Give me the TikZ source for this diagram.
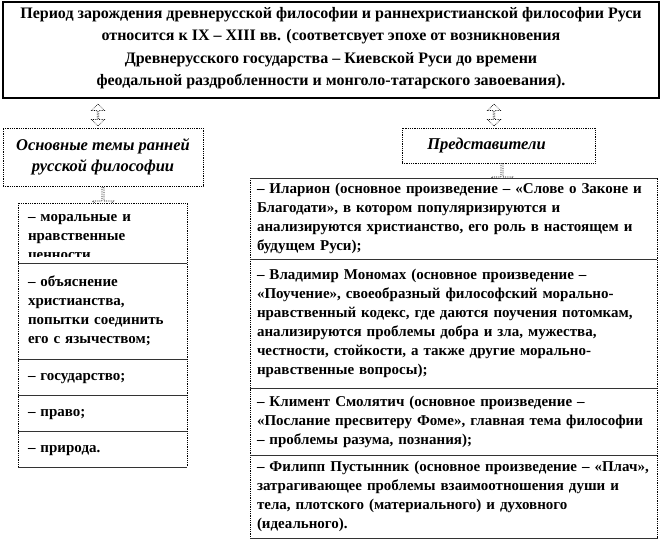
\documentclass[tikz,border=0pt]{standalone}
\usepackage{fontspec}
\setmainfont{Liberation Serif}
\usetikzlibrary{shapes.arrows,positioning}

\begin{document}
\begin{tikzpicture}[x=1pt, y=-1pt]
  \tikzset{
    period box/.style={rectangle, draw, line width=1.4pt, fill=white,
      minimum width=656, minimum height=96, inner sep=0pt,
      align=center, font=\fontsize{16}{22.5}\selectfont\bfseries,
      execute at begin node=\rule{0pt}{20pt}, execute at end node=\strut},
    head box/.style={rectangle, draw, densely dotted, line width=0.8pt,
      inner sep=0pt, align=center,
      font=\fontsize{16.5}{21}\selectfont\bfseries\itshape},
    item/.style={rectangle, fill=white, outer sep=0pt, inner ysep=0pt,
      align=left, font=\fontsize{15}{19}\selectfont\bfseries,
      execute at begin node=\strut, execute at end node=\strut},
    left item/.style={item, inner xsep=10pt, text width=149},
    right item/.style={item, inner xsep=7pt, text width=393},
    updown/.style={double arrow, draw, densely dotted, line width=0.7pt,
      fill=white, rotate=90, minimum height=22, minimum width=13,
      double arrow head extend=2.5pt, inner sep=0pt},
    down/.style={single arrow, draw, densely dotted, line width=0.8pt,
      fill=white, rotate=-90, minimum height=24, minimum width=21,
      single arrow head extend=3.5pt, inner sep=0pt},
    divider/.style={line width=0.8pt, draw=black!80},
    outline/.style={densely dotted, line width=0.8pt}
  }
  \useasboundingbox (0,0) rectangle (662,541);

  % top box
  \node[period box] (period) at (331,50) {Период зарождения древнерусской философии и раннехристианской философии Руси\\
    относится к IX – XIII вв. (соответсвует эпохе от возникновения\\
    Древнерусского государства – Киевской Руси до времени\\
    феодальной раздробленности и монголо-татарского завоевания).};

  \node[updown] (arrL) at (98,115) {};
  \node[updown] (arrR) at (494,115) {};

  \node[head box, minimum width=200, minimum height=58] (themes) at (103,157)
    {Основные темы ранней\\ русской философии};
  \node[head box, minimum width=193, minimum height=35] (reps) at (498.5,145.5)
    {Представители\hspace*{24pt}};

  \node[down] (downL) at (103,199) {};
  \node[down] (downR) at (502,175) {};

  % left column
  \begin{scope}
    \clip (18,203) rectangle (187,256.5);
    \node[left item, minimum height=60, anchor=north west] (moral) at (18,203)
      {\rule{0pt}{18.8pt}– моральные и\\ нравственные\\ ценности};
  \end{scope}
  \node[left item, minimum height=96, anchor=north west] (christ) at (18,263)
    {– объяснение\\ христианства,\\ попытки соединить\\ его с язычеством;};
  \node[left item, minimum height=36, below=0pt of christ] (state) {– государство;};
  \node[left item, minimum height=36, below=0pt of state] (law) {– право;};
  \node[left item, minimum height=36, below=0pt of law] (nature) {– природа.};

  \draw[outline] (moral.north west) rectangle (nature.south east);
  \draw[divider] (christ.north west) -- (christ.north east);
  \foreach \a in {christ,state,law,nature}
    \draw[divider] (\a.south west) -- (\a.south east);

  % right column
  \node[right item, minimum height=81, anchor=north west] (ilarion) at (250,178)
    {– Иларион (основное произведение – «Слове о Законе и\\
     Благодати»,  в котором популяризируются и\\
     анализируются христианство, его роль в настоящем и\\
     будущем  Руси);};
  \node[right item, minimum height=129, below=0pt of ilarion] (monomakh)
    {– Владимир Мономах (основное произведение –\\
     «Поучение»,  своеобразный философский  морально-\\
     нравственный кодекс, где даются поучения потомкам,\\
     анализируются проблемы добра и зла, мужества,\\
     честности, стойкости,  а также другие морально-\\
     нравственные вопросы);};
  \node[right item, minimum height=67, below=0pt of monomakh] (kliment)
    {– Климент Смолятич (основное произведение –\\
     «Послание пресвитеру Фоме», главная тема философии\\
     – проблемы разума,  познания);};
  \node[right item, minimum height=83, below=0pt of kliment] (filipp)
    {– Филипп Пустынник (основное произведение – «Плач»,\\
     затрагивающее  проблемы взаимоотношения души и\\
     тела, плотского (материального) и духовного\\
     (идеального).};

  \draw[outline] (ilarion.north west) rectangle (filipp.south east);
  \draw[divider] (ilarion.north west) -- (ilarion.north east);
  \foreach \a in {ilarion,monomakh,kliment,filipp}
    \draw[divider] (\a.south west) -- (\a.south east);
\end{tikzpicture}
\end{document}
